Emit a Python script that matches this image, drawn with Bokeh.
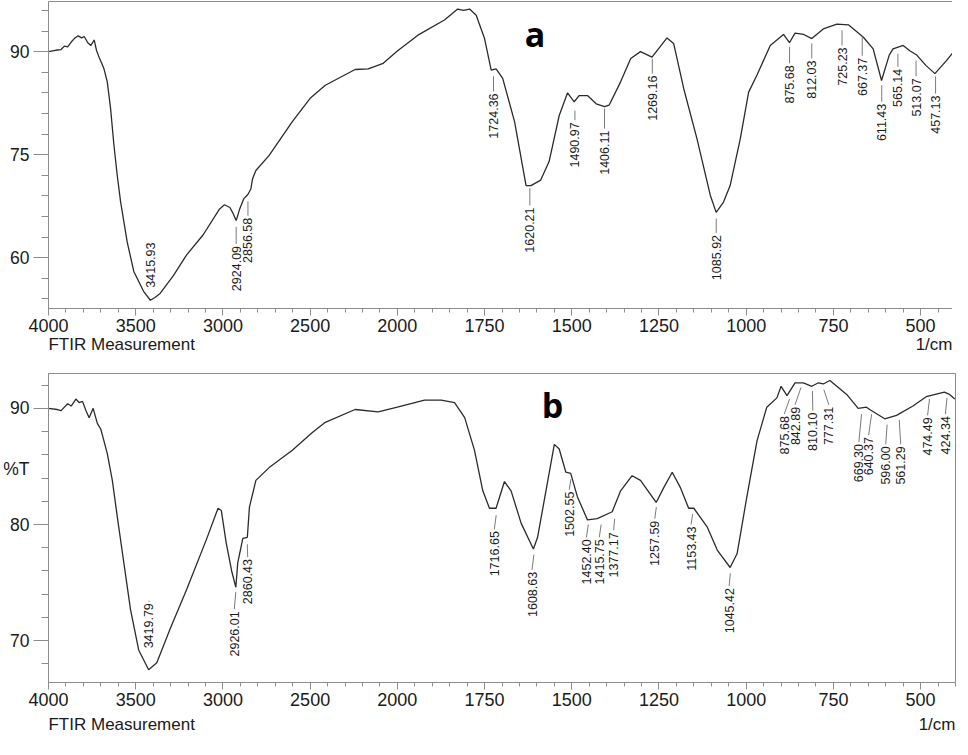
import math
from bokeh.plotting import figure
from bokeh.models import FixedTicker, Label, Range1d, ColumnDataSource, LinearAxis
from bokeh.layouts import column
from bokeh.embed import file_html
from bokeh.resources import INLINE
from bokeh.core.properties import value

# ---------------- data ----------------
# Panel a spectrum (wavenumber 1/cm, %T)
wn_a = [4000, 3960, 3928, 3909, 3890, 3870, 3852, 3830, 3810, 3795, 3775, 3757, 3738, 3725, 3710,
        3695, 3682, 3663, 3644, 3625, 3606, 3587, 3549, 3511, 3455, 3416, 3390, 3360, 3284, 3208,
        3114, 3019, 2991, 2960, 2945, 2924, 2905, 2880, 2857, 2840, 2830, 2811, 2735, 2602, 2500,
        2413, 2242, 2167, 2081, 2000, 1941, 1865, 1827, 1810, 1793, 1774, 1750, 1731, 1717, 1698,
        1664, 1631, 1617, 1589, 1565, 1536, 1512, 1493, 1479, 1455, 1430, 1406, 1393, 1360, 1331,
        1303, 1270, 1227, 1208, 1179, 1141, 1103, 1086, 1065, 1046, 1017, 993, 969, 931, 893,
        876, 860, 835, 812, 779, 740, 707, 664, 636, 612, 590, 579, 550, 530, 511, 485, 459, 426, 402]
t_a = [90.0, 90.2, 90.3, 90.8, 90.7, 91.4, 91.9, 92.3, 92.0, 92.2, 91.3, 90.9, 91.7, 90.2, 89.2,
       88.3, 87.5, 85.6, 81.7, 76.4, 72.0, 68.2, 62.3, 58.0, 55.1, 53.8, 54.2, 54.8, 57.4, 60.4,
       63.3, 67.1, 67.7, 67.3, 66.6, 65.4, 67.0, 68.6, 69.2, 70.0, 71.5, 72.7, 74.9, 79.8, 83.2,
       85.1, 87.4, 87.5, 88.3, 90.1, 92.4, 94.6, 96.2, 96.0, 96.2, 95.3, 91.9, 87.3, 87.5, 86.1,
       79.8, 70.5, 70.5, 71.3, 74.0, 80.7, 84.0, 82.7, 83.6, 83.6, 82.4, 82.0, 82.2, 85.6, 89.0,
       90.0, 89.2, 92.0, 91.2, 84.6, 77.3, 69.1, 66.6, 68.1, 70.5, 77.3, 84.1, 86.6, 90.9, 92.5,
       91.3, 92.7, 92.5, 91.9, 93.3, 94.0, 93.9, 92.1, 90.4, 85.8, 89.5, 90.4, 90.9, 90.1, 89.5, 88.0, 86.8, 88.7, 90.2]

# Panel b spectrum
wn_b = [4000, 3950, 3928, 3890, 3870, 3843, 3825, 3805, 3785, 3767, 3744, 3720, 3700, 3691, 3663,
        3634, 3606, 3568, 3530, 3483, 3426, 3379, 3303, 3208, 3095, 3028, 3009, 2981, 2950, 2926,
        2915, 2886, 2860, 2848, 2811, 2735, 2602, 2489, 2413, 2242, 2110, 2000, 1922, 1874, 1836,
        1807, 1779, 1755, 1736, 1717, 1693, 1674, 1645, 1610, 1598, 1574, 1550, 1536, 1517, 1503,
        1484, 1455, 1427, 1384, 1360, 1327, 1303, 1258, 1236, 1212, 1189, 1165, 1150, 1112, 1083,
        1046, 1026, 998, 969, 941, 912, 900, 883, 860, 836, 812, 793, 779, 760, 712, 679, 655, 646,
        603, 569, 522, 484, 432, 417, 402]
t_b = [90.0, 89.9, 89.8, 90.4, 90.2, 90.8, 90.5, 90.6, 89.8, 89.2, 90.0, 88.7, 88.2, 87.7, 86.1,
       83.8, 80.7, 76.7, 72.7, 69.2, 67.5, 68.1, 71.0, 74.4, 78.7, 81.4, 81.2, 78.4, 76.0, 74.6,
       76.7, 78.8, 78.9, 81.5, 83.8, 84.9, 86.4, 87.9, 88.8, 89.9, 89.7, 90.1, 90.7, 90.7, 90.5,
       89.2, 86.4, 82.9, 81.4, 81.4, 83.7, 82.9, 80.1, 77.9, 78.9, 82.9, 86.9, 86.5, 84.5, 84.4,
       82.4, 80.4, 80.5, 81.1, 82.9, 84.2, 83.8, 81.9, 83.2, 84.5, 83.2, 81.4, 81.4, 79.8, 77.8,
       76.3, 77.5, 82.4, 87.2, 90.1, 90.9, 91.9, 91.1, 92.2, 92.2, 91.9, 92.2, 92.1, 92.4, 91.2, 90.0, 90.1, 89.9,
       89.1, 89.4, 90.2, 91.0, 91.4, 91.2, 90.8]

# Peak labels
peaks_a = ["3415.93", "2924.09", "2856.58", "1724.36", "1620.21", "1490.97", "1406.11", "1269.16",
           "1085.92", "875.68", "812.03", "725.23", "667.37", "611.43", "565.14", "513.07", "457.13"]
peaks_b = ["3419.79", "2926.01", "2860.43", "1716.65", "1608.63", "1502.55", "1452.40", "1415.75",
           "1377.17", "1257.59", "1153.43", "1045.42", "875.68", "842.89", "810.10", "777.31",
           "669.30", "640.37", "596.00", "561.29", "474.49", "424.34"]

x_major = [4000, 3500, 3000, 2500, 2000, 1750, 1500, 1250, 1000, 750, 500]
y_major_a = [60, 75, 90]
y_major_b = [70, 80, 90]
y_title_b = "%T"
x_title = "FTIR Measurement"
x_unit = "1/cm"

# ---------------- layout of annotations (positions only) ----------------
lead_top_a = [62.5, 64.5, 68.2, 86.4, 70.1, 81.4, 81.7, 89.0, 65.7, 90.7, 91.2, 93.1, 92.2, 85.1, 89.7, 88.7, 86.4]
text_top_a = [62.5, 62.0, 66.1, 84.2, 67.6, 80.0, 78.8, 86.8, 63.6, 88.3, 89.0, 90.9, 89.4, 82.7, 87.8, 86.4, 83.9]
lead_top_b = [73.4, 74.2, 78.3, 80.8, 77.4, 83.9, 80.0, 80.0, 80.5, 81.5, 80.9, 75.8, 90.8, 91.8, 91.5, 91.6,
              89.5, 89.5, 88.6, 89.0, 90.8, 90.9]
text_top_b = [73.4, 72.7, 77.2, 79.6, 76.1, 83.0, 78.9, 78.9, 79.5, 80.5, 80.0, 74.7, 89.5, 90.3, 89.8, 90.3,
              87.1, 87.7, 86.9, 86.9, 89.4, 89.5]
text_x_b = [3426, 2935, 2858, 1722, 1614, 1507, 1458, 1421, 1380, 1262, 1158, 1049, 891, 860, 809, 763,
            677, 649, 600, 557, 480, 429]

FONT = "Liberation Sans"
GRAY = "#8c8c8c"
TXT = "#1a1a1a"
FRAME_W = 907
U_MAX = 5200


def u(w):
    """piecewise wavenumber axis: 2x expansion below 2000 1/cm"""
    return (4000 - w) if w >= 2000 else 2000 + 2 * (2000 - w)


def panel(wn, t, ylo, yhi, ymaj, ystep, ytitle, ytitle_at, peaks, ltop, ttop, tx,
          frame_h, btop, bbot, title_standoff):
    p = figure(frame_width=FRAME_W, frame_height=frame_h, min_border_left=44, min_border_right=1,
               min_border_top=btop, min_border_bottom=bbot,
               x_range=Range1d(0, U_MAX), y_range=Range1d(ylo, yhi),
               output_backend="svg", toolbar_location=None)
    p.xgrid.visible = False
    p.ygrid.visible = False
    p.outline_line_color = GRAY
    p.background_fill_color = "white"
    p.border_fill_color = "white"

    # x axis: ticks + labels
    xa = p.xaxis[0]
    xa.ticker = FixedTicker(ticks=[u(w) for w in x_major], minor_ticks=list(range(0, U_MAX + 1, 100)))
    xa.major_label_overrides = {u(w): str(w) for w in x_major}
    xa.axis_line_color = GRAY
    xa.major_tick_line_color = GRAY
    xa.minor_tick_line_color = GRAY
    xa.major_tick_in = 0
    xa.minor_tick_in = 0
    xa.major_tick_out = 7
    xa.minor_tick_out = 4
    xa.major_label_standoff = 3
    xa.major_label_text_font = FONT
    xa.major_label_text_font_size = "18px"
    xa.major_label_text_color = TXT

    # y axis: ticks only (labels on a second axis, so that %T may sit among them)
    ya = p.yaxis[0]
    ymin = [v for v in [ymaj[0] + ystep * k for k in range(-10, 20)] if ylo <= v <= yhi]
    ya.ticker = FixedTicker(ticks=ymaj, minor_ticks=ymin)
    ya.axis_line_color = GRAY
    ya.major_tick_line_color = GRAY
    ya.minor_tick_line_color = GRAY
    ya.major_tick_in = 0
    ya.minor_tick_in = 0
    ya.major_tick_out = 15
    ya.minor_tick_out = 7
    ya.major_label_standoff = 0
    ya.major_label_overrides = {v: "" for v in ymaj}

    ticks = list(ymaj)
    over = {v: str(v) for v in ymaj}
    if ytitle:
        ticks.append(ytitle_at)
        over[ytitle_at] = ytitle
    yl = LinearAxis(ticker=FixedTicker(ticks=ticks, minor_ticks=[]), major_label_overrides=over,
                    axis_line_color=None, major_tick_line_color=None, minor_tick_line_color=None,
                    major_tick_out=0, major_tick_in=0, minor_tick_out=0, minor_tick_in=0,
                    major_label_standoff=4, major_label_text_font=FONT,
                    major_label_text_font_size="17.5px", major_label_text_color=TXT)
    p.add_layout(yl, "left")

    # second bottom axis carrying "FTIR Measurement" (left) and "1/cm" (right)
    px_per_u = FRAME_W / U_MAX
    c_title = (17 * 8.613 / 2) / px_per_u
    c_unit = U_MAX - (17 * 2.167 / 2) / px_per_u
    xb = LinearAxis(ticker=FixedTicker(ticks=[c_title, c_unit], minor_ticks=[]),
                    major_label_overrides={c_title: x_title, c_unit: x_unit},
                    axis_line_color=None, major_tick_line_color=None, minor_tick_line_color=None,
                    major_tick_out=0, major_tick_in=0, minor_tick_out=0, minor_tick_in=0,
                    major_label_standoff=title_standoff, major_label_text_font=FONT,
                    major_label_text_font_size="17px", major_label_text_color=TXT)
    p.add_layout(xb, "below")

    src = ColumnDataSource(dict(x=[u(w) for w in wn], y=t))
    p.line("x", "y", source=src, line_color="#2b2b2b", line_width=1.3)

    pw = [float(s) for s in peaks]
    if tx is None:
        tx = pw
    p.segment(x0=[u(w) for w in pw], y0=ltop, x1=[u(w) for w in tx], y1=ttop,
              line_color="#7a7a7a", line_width=1)
    p.text(x=[u(w) for w in tx], y=ttop, text=peaks, angle=math.pi / 2,
           text_align="right", text_baseline="middle", text_font=value(FONT),
           text_font_size="12.5px", text_color=TXT, y_offset=2)
    return p


pa = panel(wn_a, t_a, 52.6, 97.3, y_major_a, 3, None, None, peaks_a, lead_top_a, text_top_a, None,
           307, 1, 62, 0)
pb = panel(wn_b, t_b, 66.4, 93.0, y_major_b, 2, y_title_b, 84.8, peaks_b, lead_top_b, text_top_b, text_x_b,
           309, 3, 57, 6)

pa.add_layout(Label(x=2790, y=92.6, text="a", text_align="center", text_baseline="alphabetic",
                    text_font="Open Sans", text_font_style="bold", text_font_size="34px", text_color="black"))
pb.add_layout(Label(x=2890, y=90.3, text="b", text_align="center", text_baseline="alphabetic",
                    text_font="Open Sans", text_font_style="bold", text_font_size="34px", text_color="black"))

layout = column(pa, pb, spacing=0)
open("out.html", "w").write(file_html(layout, INLINE))
